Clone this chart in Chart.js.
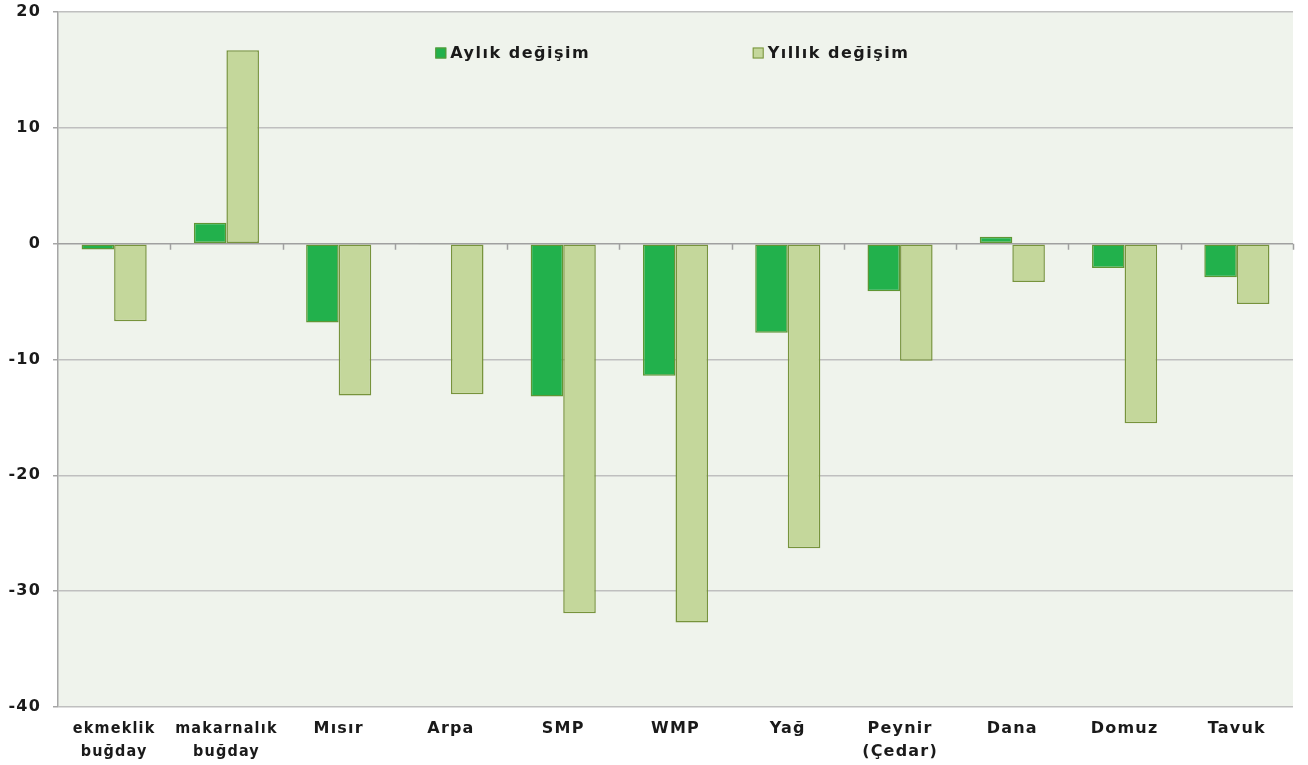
<!DOCTYPE html>
<html>
<head>
<meta charset="utf-8">
<script src="https://cdn.jsdelivr.net/npm/chart.js@4/dist/chart.umd.min.js"></script>
<style>
  html, body { margin: 0; padding: 0; background: #ffffff; }
  #wrap { width: 1308px; height: 765px; }
</style>
</head>
<body>
<div id="wrap"><canvas id="myChart"></canvas></div>
<script>
// kategoriler ve seriler
var categories = [['ekmeklik', 'buğday'], ['makarnalık', 'buğday'], 'Mısır', 'Arpa', 'SMP', 'WMP', 'Yağ', ['Peynir', '(Çedar)'], 'Dana', 'Domuz', 'Tavuk'];
var aylik = [-0.5, 1.8, -6.8, -0.1, -13.2, -11.4, -7.7, -4.1, 0.6, -2.1, -2.9];
var yillik = [-6.7, 16.7, -13.1, -13.0, -31.9, -32.7, -26.3, -10.1, -3.3, -15.5, -5.2];
var yTicks = [20, 10, 0, -10, -20, -30, -40];

var FONT = "Verdana, 'DejaVu Sans', sans-serif";
var NARROW = "'DejaVu Sans Condensed', 'DejaVu Sans', sans-serif";
var SPACING = '1.2px';

// wider letters, a bit like Verdana
var spacing = {
    id: 'spacing',
    beforeUpdate: function (chart) { chart.ctx.letterSpacing = SPACING; },
    beforeLayout: function (chart) { chart.ctx.letterSpacing = SPACING; },
    beforeDraw: function (chart) { chart.ctx.letterSpacing = SPACING; }
};

// plot area background + zero line ticks
var plotBg = {
    id: 'plotBg',
    beforeDraw: function (chart) {
        var a = chart.chartArea, c = chart.ctx;
        c.save();
        c.fillStyle = '#eff3ec';
        c.fillRect(a.left, a.top, a.right - a.left, a.bottom - a.top);
        c.restore();
    },
    afterDatasetsDraw: function (chart) {
        var c = chart.ctx, x = chart.scales.x, y = chart.scales.y;
        var y0 = y.getPixelForValue(0);
        var step = (x.right - x.left) / categories.length;
        c.save();
        c.strokeStyle = '#a0a0a0';
        c.lineWidth = 1.5;
        c.beginPath();
        c.moveTo(x.left, y0);
        c.lineTo(x.right, y0);
        for (var i = 1; i <= categories.length; i++) {
            var px = Math.round(x.left + step * i) + 0.5;
            c.moveTo(px, y0);
            c.lineTo(px, y0 + 6);
        }
        c.stroke();
        c.restore();
    }
};

// legend inside the plot
var innerLegend = {
    id: 'innerLegend',
    afterDraw: function (chart) {
        var a = chart.chartArea, c = chart.ctx;
        var w = a.right - a.left;
        var spots = [a.left + w * 0.3055, a.left + w * 0.5625];
        c.save();
        c.font = 'bold 16px ' + FONT;
        c.letterSpacing = '1.5px';
        c.textBaseline = 'middle';
        chart.data.datasets.forEach(function (ds, i) {
            var x = spots[i], y = a.top + 41;
            c.fillStyle = ds.backgroundColor;
            c.fillRect(x, y - 5.5, 11, 11);
            c.strokeStyle = ds.borderColor;
            c.lineWidth = 1;
            c.strokeRect(x + 0.5, y - 5, 10, 10);
            c.fillStyle = '#1a1a1a';
            c.fillText(ds.label, x + 15, y + 1);
        });
        c.restore();
    }
};

var ctx = document.getElementById('myChart').getContext('2d');
var myChart = new Chart(ctx, {
    type: 'bar',
    data: {
        labels: categories,
        datasets: [{
            label: 'Aylık değişim',
            data: aylik,
            backgroundColor: '#22b14c',
            borderColor: '#5f9634',
            borderWidth: 1.5,
            borderSkipped: false
        }, {
            label: 'Yıllık değişim',
            data: yillik,
            backgroundColor: '#c4d79b',
            borderColor: '#77933c',
            borderWidth: 1.5,
            borderSkipped: false
        }]
    },
    options: {
        responsive: true,
        maintainAspectRatio: false,
        animation: false,
        categoryPercentage: 0.58,
        barPercentage: 1,
        layout: { padding: { top: 12, right: 15, left: 0, bottom: 0 } },
        plugins: {
            legend: { display: false },
            tooltip: { enabled: false }
        },
        scales: {
            x: {
                grid: { display: false, drawTicks: false },
                border: { display: false },
                ticks: {
                    color: '#1a1a1a',
                    font: function (c) {
                        return { family: c.index < 2 ? NARROW : FONT, size: 16, weight: 'bold', lineHeight: 1.4 };
                    },
                    padding: 11,
                    maxRotation: 0,
                    autoSkip: false
                },
                afterFit: function (s) { s.height = 58; s.paddingLeft = 0; s.paddingRight = 0; }
            },
            y: {
                min: -40,
                max: 20,
                afterBuildTicks: function (s) {
                    s.ticks = yTicks.map(function (v) { return { value: v }; });
                },
                grid: {
                    color: function (c) { return c.tick && c.tick.value === 0 ? 'rgba(0,0,0,0)' : '#bfbfbf'; },
                    lineWidth: 1.5,
                    tickLength: 5,
                    tickColor: '#a6a6a6'
                },
                border: { color: '#a6a6a6', width: 1.5 },
                ticks: {
                    color: '#1a1a1a',
                    font: { family: FONT, size: 16, weight: 'bold' },
                    padding: 12
                },
                afterFit: function (s) { s.width = 58; s.paddingTop = 0; s.paddingBottom = 0; }
            }
        }
    },
    plugins: [spacing, plotBg, innerLegend]
});
</script>
</body>
</html>
